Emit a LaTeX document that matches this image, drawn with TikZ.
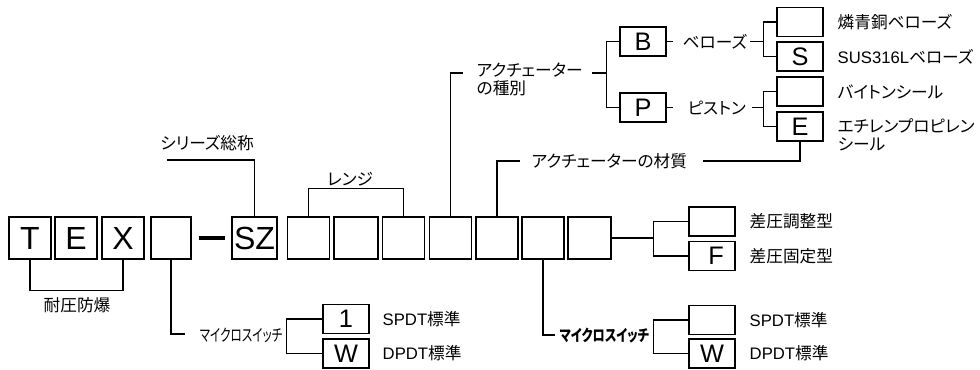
\documentclass[tikz,border=0pt]{standalone}
\usepackage{fontspec}
\setmainfont{Liberation Sans}
\newfontfamily\jp[RawFeature=+palt]{Noto Sans CJK JP}
\usetikzlibrary{calc}
\begin{document}
\begin{tikzpicture}[x=0.75pt,y=-0.75pt, line width=1.1pt,
  bigbox/.style={draw, minimum width=31.5pt, minimum height=31.5pt, inner sep=0pt, font=\fontsize{24}{24}\selectfont},
  smallbox/.style={draw, minimum width=34.5pt, minimum height=21.75pt, inner sep=0pt, font=\fontsize{19}{19}\selectfont},
  lbl/.style={inner sep=0pt, anchor=west, font=\fontsize{12.5}{13.5}\selectfont\jp},
  dashline/.style={line width=2.3pt}]
\useasboundingbox (0,0) rectangle (980,369);

% main row
\node[bigbox] (T) at (30,238) {T};
\node[bigbox] (E) at (76,238) {E};
\node[bigbox] (X) at (123,238) {X};
\node[bigbox, minimum width=30pt] (Q) at (171,238) {};
\node[bigbox, minimum width=33.75pt] (SZ) at (254.5,238) {SZ};
\node[bigbox] (R1) at (308.5,238) {};
\node[bigbox, minimum width=33pt] (R2) at (356,238) {};
\node[bigbox] (R3) at (403.5,238) {};
\node[bigbox] (A) at (450.5,238) {};
\node[bigbox] (M) at (497,238) {};
\node[bigbox] (SW) at (543,238) {};
\node[bigbox, minimum width=32.25pt] (D) at (589.5,238) {};

\draw[dashline] ([xshift=5.25pt]Q.east) -- ([xshift=-4.5pt]SZ.west);

% TEX
\draw (T.south) -- ++(0,31) -| (X.south);
\node[lbl, anchor=center] (taiatsu) at (77,305) {耐圧防爆};

% micro switch 1
\coordinate (q1) at (185,334);
\draw (Q.south) |- (q1);
\node[anchor=west, inner sep=0pt] (mic1) at (199,335) {\resizebox{62pt}{\height}{\fontsize{12.5}{13}\selectfont\jp マイクロスイッチ}};
\node[smallbox] (s1) at (346,319) {1};
\node[smallbox] (sW) at (346,353.5) {W};
\draw (s1.west) -- ++(-36,0) |- (sW.west);
\node[lbl] (s1t) at (382,319) {{\rmfamily SPDT}標準};
\node[lbl] (sWt) at (382,353.5) {{\rmfamily DPDT}標準};

% series
\coordinate (sz1) at (167,160);
\draw (SZ.north) |- (sz1);
\node[lbl, anchor=center] (szt) at (207,143) {シリーズ総称};

% range
\draw (R1.north) -- ++(0,-28) -| (R3.north);
\node[lbl, anchor=center] (rt) at (350,179) {レンジ};

% actuator type
\coordinate (a1) at (463,73);
\draw (A.north) |- (a1);
\node[lbl, align=left, anchor=north west] (kind) at (476,62) {アクチェーター\\の種別};
\coordinate (k1) at (592,73);
\coordinate (k2) at (607,73);
\draw (k1) -- (k2);
\node[smallbox] (B) at (643,41.5) {\raisebox{-1.5pt}{B}};
\node[smallbox] (P) at (643,107.5) {\raisebox{-3pt}{P}};
\draw (B.west) -- ++(-13,0) |- (P.west);

% bellows
\coordinate (be0) at (673,41.5);
\draw (B.east) -- (be0);
\node[lbl] (bet) at (682,41.5) {ベローズ};
\coordinate (be1) at (750,41.5);
\coordinate (be2) at (764,41.5);
\draw (be1) -- (be2);
\node[smallbox] (bb1) at (800,22) {};
\node[smallbox] (bb2) at (800,56.5) {S};
\draw (bb1.west) -- ++(-13,0) |- (bb2.west);
\node[lbl] (bb1t) at (837,22) {燐青銅ベローズ};
\node[lbl] (bb2t) at (837,56.5) {{\rmfamily SUS316L}ベローズ};

% piston
\coordinate (pi0) at (673,107.5);
\draw (P.east) -- (pi0);
\node[lbl] (pit) at (687,107.5) {ピストン};
\coordinate (pi1) at (752,107.5);
\coordinate (pi2) at (764,107.5);
\draw (pi1) -- (pi2);
\node[smallbox] (pb1) at (800,91.5) {};
\node[smallbox] (pb2) at (800,126.5) {E};
\draw (pb1.west) -- ++(-13,0) |- (pb2.west);
\node[lbl] (pb1t) at (837,91.5) {バイトンシール};
\node[lbl, align=left, anchor=north west] (pb2t) at (837,117.5) {エチレンプロピレン\\シール};

% material
\coordinate (e1) at (703,161);
\draw (pb2.south) |- (e1);
\node[lbl] (mt) at (531,161) {アクチェーターの材質};
\coordinate (m1) at (520,161);
\draw (m1) -| (M.north);

% differential
\coordinate (dj) at (653,238);
\draw (D.east) -- (dj);
\node[smallbox] (d1) at (712,221.5) {};
\node[smallbox] (d2) at (712,256) {\raisebox{-2pt}{\hspace{6pt}F}};
\draw (d1.west) -- ++(-35,0) |- (d2.west);
\node[lbl] (d1t) at (749,221.5) {差圧調整型};
\node[lbl] (d2t) at (749,256) {差圧固定型};

% micro switch 2
\coordinate (w1) at (555,335);
\draw (SW.south) |- (w1);
\node[anchor=west, inner sep=0pt] (mic2) at (559,336) {\resizebox{67pt}{\height}{\fontsize{12}{13}\selectfont\jp\bfseries マイクロスイッチ}};
\node[smallbox] (w2a) at (712,320) {};
\node[smallbox] (w2b) at (712,353.5) {W};
\draw (w2a.west) -- ++(-35,0) |- (w2b.west);
\node[lbl] (w2at) at (749,320) {{\rmfamily SPDT}標準};
\node[lbl] (w2bt) at (749,353.5) {{\rmfamily DPDT}標準};
\end{tikzpicture}
\end{document}
